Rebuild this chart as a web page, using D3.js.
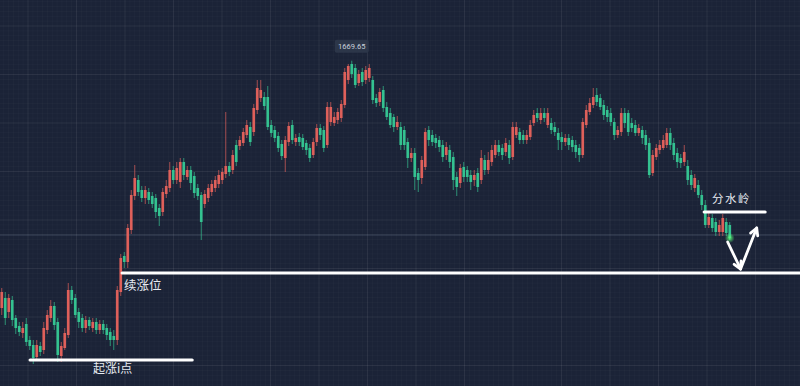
<!DOCTYPE html>
<html>
<head>
<meta charset="utf-8">
<script src="https://cdn.jsdelivr.net/npm/d3@7"></script>
<style>
html,body{margin:0;padding:0;background:#1c2439;}
svg{display:block;}
</style>
</head>
<body>
<div id="chart"></div>
<script>
// candle data (price)
var opens=[1546,1551,1544,1550,1541,1537,1533.5,1538,1530,1527.5,1521.5,1527,1525,1535,1541,1547,1539,1522,1526,1532.5,
1555,1551,1544,1541,1536,1540,1536,1539,1535,1538,1536,1534,1532,1530,1554,1572,1569,1585,1602,1610,
1605,1601,1604,1602,1601,1596,1594,1603,1606,1615,1610,1609,1619,1611.5,1615,1612,1606,1602.5,1598,1601,
1604,1606,1608,1610,1613,1617,1615,1627.5,1627,1628.5,1632.5,1636.5,1634,1645,1651,1651.5,1651.5,1637.5,1635,1632,
1628,1621,1629,1637.5,1629,1631.5,1631,1628.5,1626,1622.5,1629,1636,1635,1627.5,1639,1638.5,1640,1641,1647.5,1660,
1668,1666,1658.5,1664,1660,1661,1660,1651,1649,1655,1646.5,1643.5,1641.5,1636.5,1636.5,1635,1629,1621,1623.5,1613.5,
1611,1616.5,1635,1632.5,1631,1630,1627.5,1622.5,1625,1621.5,1611.5,1608.5,1616.5,1615,1612.5,1610,1613.5,1610,1620,1615,
1619,1622.5,1627.5,1626,1624,1627.5,1621.5,1632.5,1634,1632.5,1630,1631.5,1638.5,1643.5,1640,1643.5,1637.5,1638.5,1636.5,1633.5,
1631.5,1629,1631,1630,1627.5,1626,1622.5,1637.5,1644,1647.5,1652.5,1651,1647.5,1645,1643.5,1639,1632.5,1634,1643.5,1643.5,
1638.5,1637.5,1633.5,1635,1632.5,1628.5,1613.5,1621.5,1625,1626,1627.5,1633.5,1628.5,1623.5,1621,1619,1617,1612.5,1606,1607.5,
1602.5,1597.5,1587.5,1591,1589,1584,1584,1589,1587.5];
var closes=[1554,1541,1551,1540,1536,1534,1536,1529,1527,1521,1527.5,1524,1536,1542.5,1547,1537.5,1522.5,1527,1533.5,1555,
1550,1542.5,1539,1536,1540,1537,1539,1535,1538,1535,1532.5,1530,1530,1555,1571,1569,1586,1602.5,1611,1604,
1601,1605,1600,1598,1594,1592,1604,1607,1615,1610,1616,1619,1612.5,1615,1608.5,1603.5,1602,1589,1603,1606,
1608,1610,1612.5,1614,1617,1614,1622.5,1619,1630,1634,1637.5,1629,1646,1656,1655,1647,1636.5,1633.5,1631,1626,
1622,1630,1637,1630,1631,1629,1626.5,1625,1621,1629,1636,1632.5,1626,1646.5,1646.5,1641.5,1644,1648,1664,1667,
1663,1657.5,1663,1659,1665,1666,1650,1648.5,1654,1646,1641.5,1637.5,1636.5,1639,1627.5,1627.5,1621,1623.5,1611.5,1610,
1620,1634,1630,1629,1628.5,1626.5,1621.5,1626.5,1619,1610,1606.5,1616,1611.5,1611.5,1609,1612.5,1606.5,1621,1615,1620,
1625,1627.5,1624,1622.5,1628.5,1621,1636.5,1636.5,1630,1630,1632.5,1637.5,1642.5,1641,1643.5,1641,1643.5,1635,1634,1630,
1629,1631,1627.5,1626.5,1624,1622.5,1639,1645,1648.5,1651.5,1649,1646.5,1642.5,1641.5,1639,1632.5,1635,1643.5,1638.5,1634,
1636,1633.5,1636,1631,1627.5,1612.5,1622.5,1626,1627.5,1630,1633.5,1627.5,1622.5,1619,1618.5,1624,1610,1607.5,1611,1602.5,
1597.5,1587.5,1591.5,1586,1584,1587.5,1591,1583.5,1581];
var highs=[1556,1554,1553,1552,1542.5,1539,1539,1541,1532,1530,1530,1529,1539,1545,1550,1549,1541,1529,1536,1558.5,
1557,1553,1546,1543,1542,1541.5,1541,1541,1540,1540,1538,1536,1535,1557,1573,1574,1588,1605,1617.5,1612.5,
1607,1607,1606,1604,1603,1598,1606,1610,1619,1617,1619,1621,1621,1617,1617,1614,1608,1604,1605,1608,
1610,1612,1615,1616,1644,1619,1625,1630,1632,1636,1640,1639,1648,1660,1660,1654,1657,1640,1637,1634,
1630,1632,1639,1640,1633,1633.5,1633,1630,1628,1631,1638,1638,1637,1649,1649,1644,1646,1650,1666,1668,
1669.65,1668,1665,1666,1667,1668,1662,1653,1656,1657,1649,1646,1643,1642,1639,1637,1631,1626,1626,1616,
1622,1636,1637,1635,1633,1632,1630,1629,1627.5,1624,1614,1618,1619,1617,1615,1615,1616,1625,1622.5,1624,
1627.5,1630,1630,1628,1631,1630,1639,1639,1636,1635,1635,1640,1645,1646,1646,1646,1646,1641,1639,1636,
1634,1633,1633,1632,1630,1628,1641,1647.5,1651,1656,1656,1653,1650,1647,1646,1641,1637,1646,1646,1645,
1641,1640,1638,1637,1635,1631,1625,1628,1630,1632.5,1636,1636,1631,1626,1623,1627.5,1620,1615,1613,1610,
1605,1600,1594,1593,1591,1590,1593,1591,1589];
var lows=[1542.5,1537.5,1541,1537,1533,1532,1531,1527,1525,1518,1520,1522,1523,1533,1539,1535,1519,1519,1525,1531,
1548,1541,1536,1534,1533.5,1535,1534,1533,1533,1533,1530,1527,1525,1527.5,1552,1566,1566,1583,1600,1602,
1599,1598,1598,1596,1591,1587,1592,1601,1604,1608,1608,1606,1610,1610,1605,1601,1600,1580,1596,1599,
1602,1604,1606,1608,1611,1612,1613,1617,1625,1627,1631,1627,1632,1643,1649,1645,1635,1631.5,1629,1624,
1620,1614,1627,1628,1627,1627,1625,1622.5,1619,1621,1627,1630,1624,1626,1637,1637,1638,1639,1646,1658,
1661,1656,1657,1657,1658,1659,1648,1646.5,1647,1644,1640,1636,1634,1635,1625,1625,1616,1619,1605,1604,
1608,1615,1627,1627,1626,1624,1619,1620,1616,1605,1602,1606,1609,1609,1605,1607,1604,1608,1612.5,1613,
1617,1621,1622,1620,1622,1618,1620,1631,1628,1628,1628,1630,1637,1639,1638,1639,1636,1633,1632,1625,
1625,1627,1625,1624,1621,1619,1621,1636,1642.5,1646,1647,1645,1640,1639,1637,1630,1631,1632,1636,1632,
1634,1632,1632,1628,1625,1611,1612,1620,1623,1625,1626,1625,1620,1616,1616,1617,1607.5,1605,1604,1601,
1595,1586,1586,1584,1582,1582,1582,1582,1580];

// annotation values
var peakLabel="1669.65";
var lastPrice=1582.5;
var levelNames=["起涨i点","续涨位","分水岭"];
var levelPrices=[1520,1563.5,1594];
var levelFrom=[8.6,34.9,201.2];
var levelTo=[54.9,228.6,218.6];
// projected path: down to support, then back up
var pathIdx=[207.9,211.6,216.2];
var pathPrice=[1579,1565.5,1586];

var W=800,H=386;
var N=opens.length;
var red="#e5625c",green="#35c794";

var x=d3.scaleLinear().domain([0,N]).range([0,731.5]);
var y=d3.scaleLinear().domain([1507,1700]).range([H,0]);

var svg=d3.select("#chart").append("svg").attr("width",W).attr("height",H);
svg.append("rect").attr("width",W).attr("height",H).attr("fill","#1b2337");

// glow for the last candle
var defs=svg.append("defs");
var rg=defs.append("radialGradient").attr("id","glow");
rg.append("stop").attr("offset","0%").attr("stop-color","#5dff7a").attr("stop-opacity",0.9);
rg.append("stop").attr("offset","100%").attr("stop-color","#5dff7a").attr("stop-opacity",0);

// minor grid
var minor=svg.append("g").attr("stroke","#ffffff").attr("stroke-opacity",0.022);
d3.range(-20,170).forEach(function(k){
    var p=28+k*4.85;
    minor.append("line").attr("x1",p).attr("x2",p).attr("y1",0).attr("y2",H);
    var q=26+k*4.85;
    minor.append("line").attr("x1",0).attr("x2",W).attr("y1",q).attr("y2",q);
});
// major grid
var major=svg.append("g").attr("stroke","#ffffff").attr("stroke-opacity",0.05);
d3.range(0,17).forEach(function(k){
    var p=28+k*48.5;
    major.append("line").attr("x1",p).attr("x2",p).attr("y1",0).attr("y2",H);
});
d3.range(0,8).forEach(function(k){
    var q=26+k*48.5;
    major.append("line").attr("x1",0).attr("x2",W).attr("y1",q).attr("y2",q);
});
// last price line
svg.append("line").attr("x1",0).attr("x2",W)
    .attr("y1",y(lastPrice)).attr("y2",y(lastPrice))
    .attr("stroke","#9fb4c8").attr("stroke-opacity",0.25).attr("stroke-width",1);

// candles
var cw=2.7;
function col(i){ return closes[i]>=opens[i]?red:green; }
var candles=svg.append("g").selectAll("g").data(d3.range(N)).enter().append("g");
candles.append("line")
    .attr("x1",function(i){return x(i+.5);})
    .attr("x2",function(i){return x(i+.5);})
    .attr("y1",function(i){return y(highs[i]);})
    .attr("y2",function(i){return y(lows[i]);})
    .attr("stroke",col).attr("stroke-width",0.9).attr("stroke-opacity",0.75);
candles.append("rect")
    .attr("x",function(i){return x(i+.5)-cw/2;})
    .attr("width",cw)
    .attr("y",function(i){return y(Math.max(opens[i],closes[i]));})
    .attr("height",function(i){return Math.max(1,Math.abs(y(opens[i])-y(closes[i])));})
    .attr("fill",col).attr("fill-opacity",0.95);

// glow on the latest candle
svg.append("circle").attr("cx",x(N-.5)).attr("cy",y(closes[N-1])).attr("r",5).attr("fill","url(#glow)");

// peak label
var peakI=highs.indexOf(d3.max(highs));
var px=x(peakI+.5), py=y(highs[peakI]);
svg.append("rect").attr("x",px-17).attr("y",py-21).attr("width",34).attr("height",13)
    .attr("rx",2).attr("fill","#2c3649");
svg.append("text").attr("x",px).attr("y",py-11.5).attr("text-anchor","middle")
    .attr("font-family","Roboto, 'DejaVu Sans', sans-serif").attr("font-size",7.5)
    .attr("fill","#c9d1dc").text(peakLabel);

// support/resistance lines
var ann=svg.append("g");
levelPrices.forEach(function(p,k){
    ann.append("line").attr("x1",x(levelFrom[k])).attr("x2",x(levelTo[k]))
        .attr("y1",y(p)).attr("y2",y(p))
        .attr("stroke","#ffffff").attr("stroke-width",3.2).attr("stroke-linecap","round");
});
var font="'Noto Sans CJK SC', sans-serif";
ann.append("text").attr("x",93).attr("y",y(levelPrices[0])+13).attr("font-family",font)
    .attr("font-size",12).attr("fill","#e8ecf2").text(levelNames[0]);
ann.append("text").attr("x",124).attr("y",y(levelPrices[1])+17).attr("font-family",font)
    .attr("font-size",12.5).attr("fill","#e8ecf2").text(levelNames[1]);
ann.append("text").attr("x",712).attr("y",y(levelPrices[2])-9).attr("font-family",font)
    .attr("font-size",11.5).attr("letter-spacing",1.5).attr("fill","#e8ecf2").text(levelNames[2]);

// arrows
function arrow(x1,y1,x2,y2){
    var a=Math.atan2(y2-y1,x2-x1), L=8, s=0.5;
    ann.append("line").attr("x1",x1).attr("y1",y1).attr("x2",x2).attr("y2",y2)
        .attr("stroke","#fff").attr("stroke-width",2.8).attr("stroke-linecap","round");
    ann.append("path")
        .attr("d","M"+(x2-L*Math.cos(a-s))+","+(y2-L*Math.sin(a-s))+"L"+x2+","+y2+"L"+(x2-L*Math.cos(a+s))+","+(y2-L*Math.sin(a+s)))
        .attr("fill","none").attr("stroke","#fff").attr("stroke-width",2.8)
        .attr("stroke-linecap","round").attr("stroke-linejoin","round");
}
for(var k=0;k<pathIdx.length-1;k++){
    arrow(x(pathIdx[k]),y(pathPrice[k]),x(pathIdx[k+1]),y(pathPrice[k+1]));
}
</script>
</body>
</html>
